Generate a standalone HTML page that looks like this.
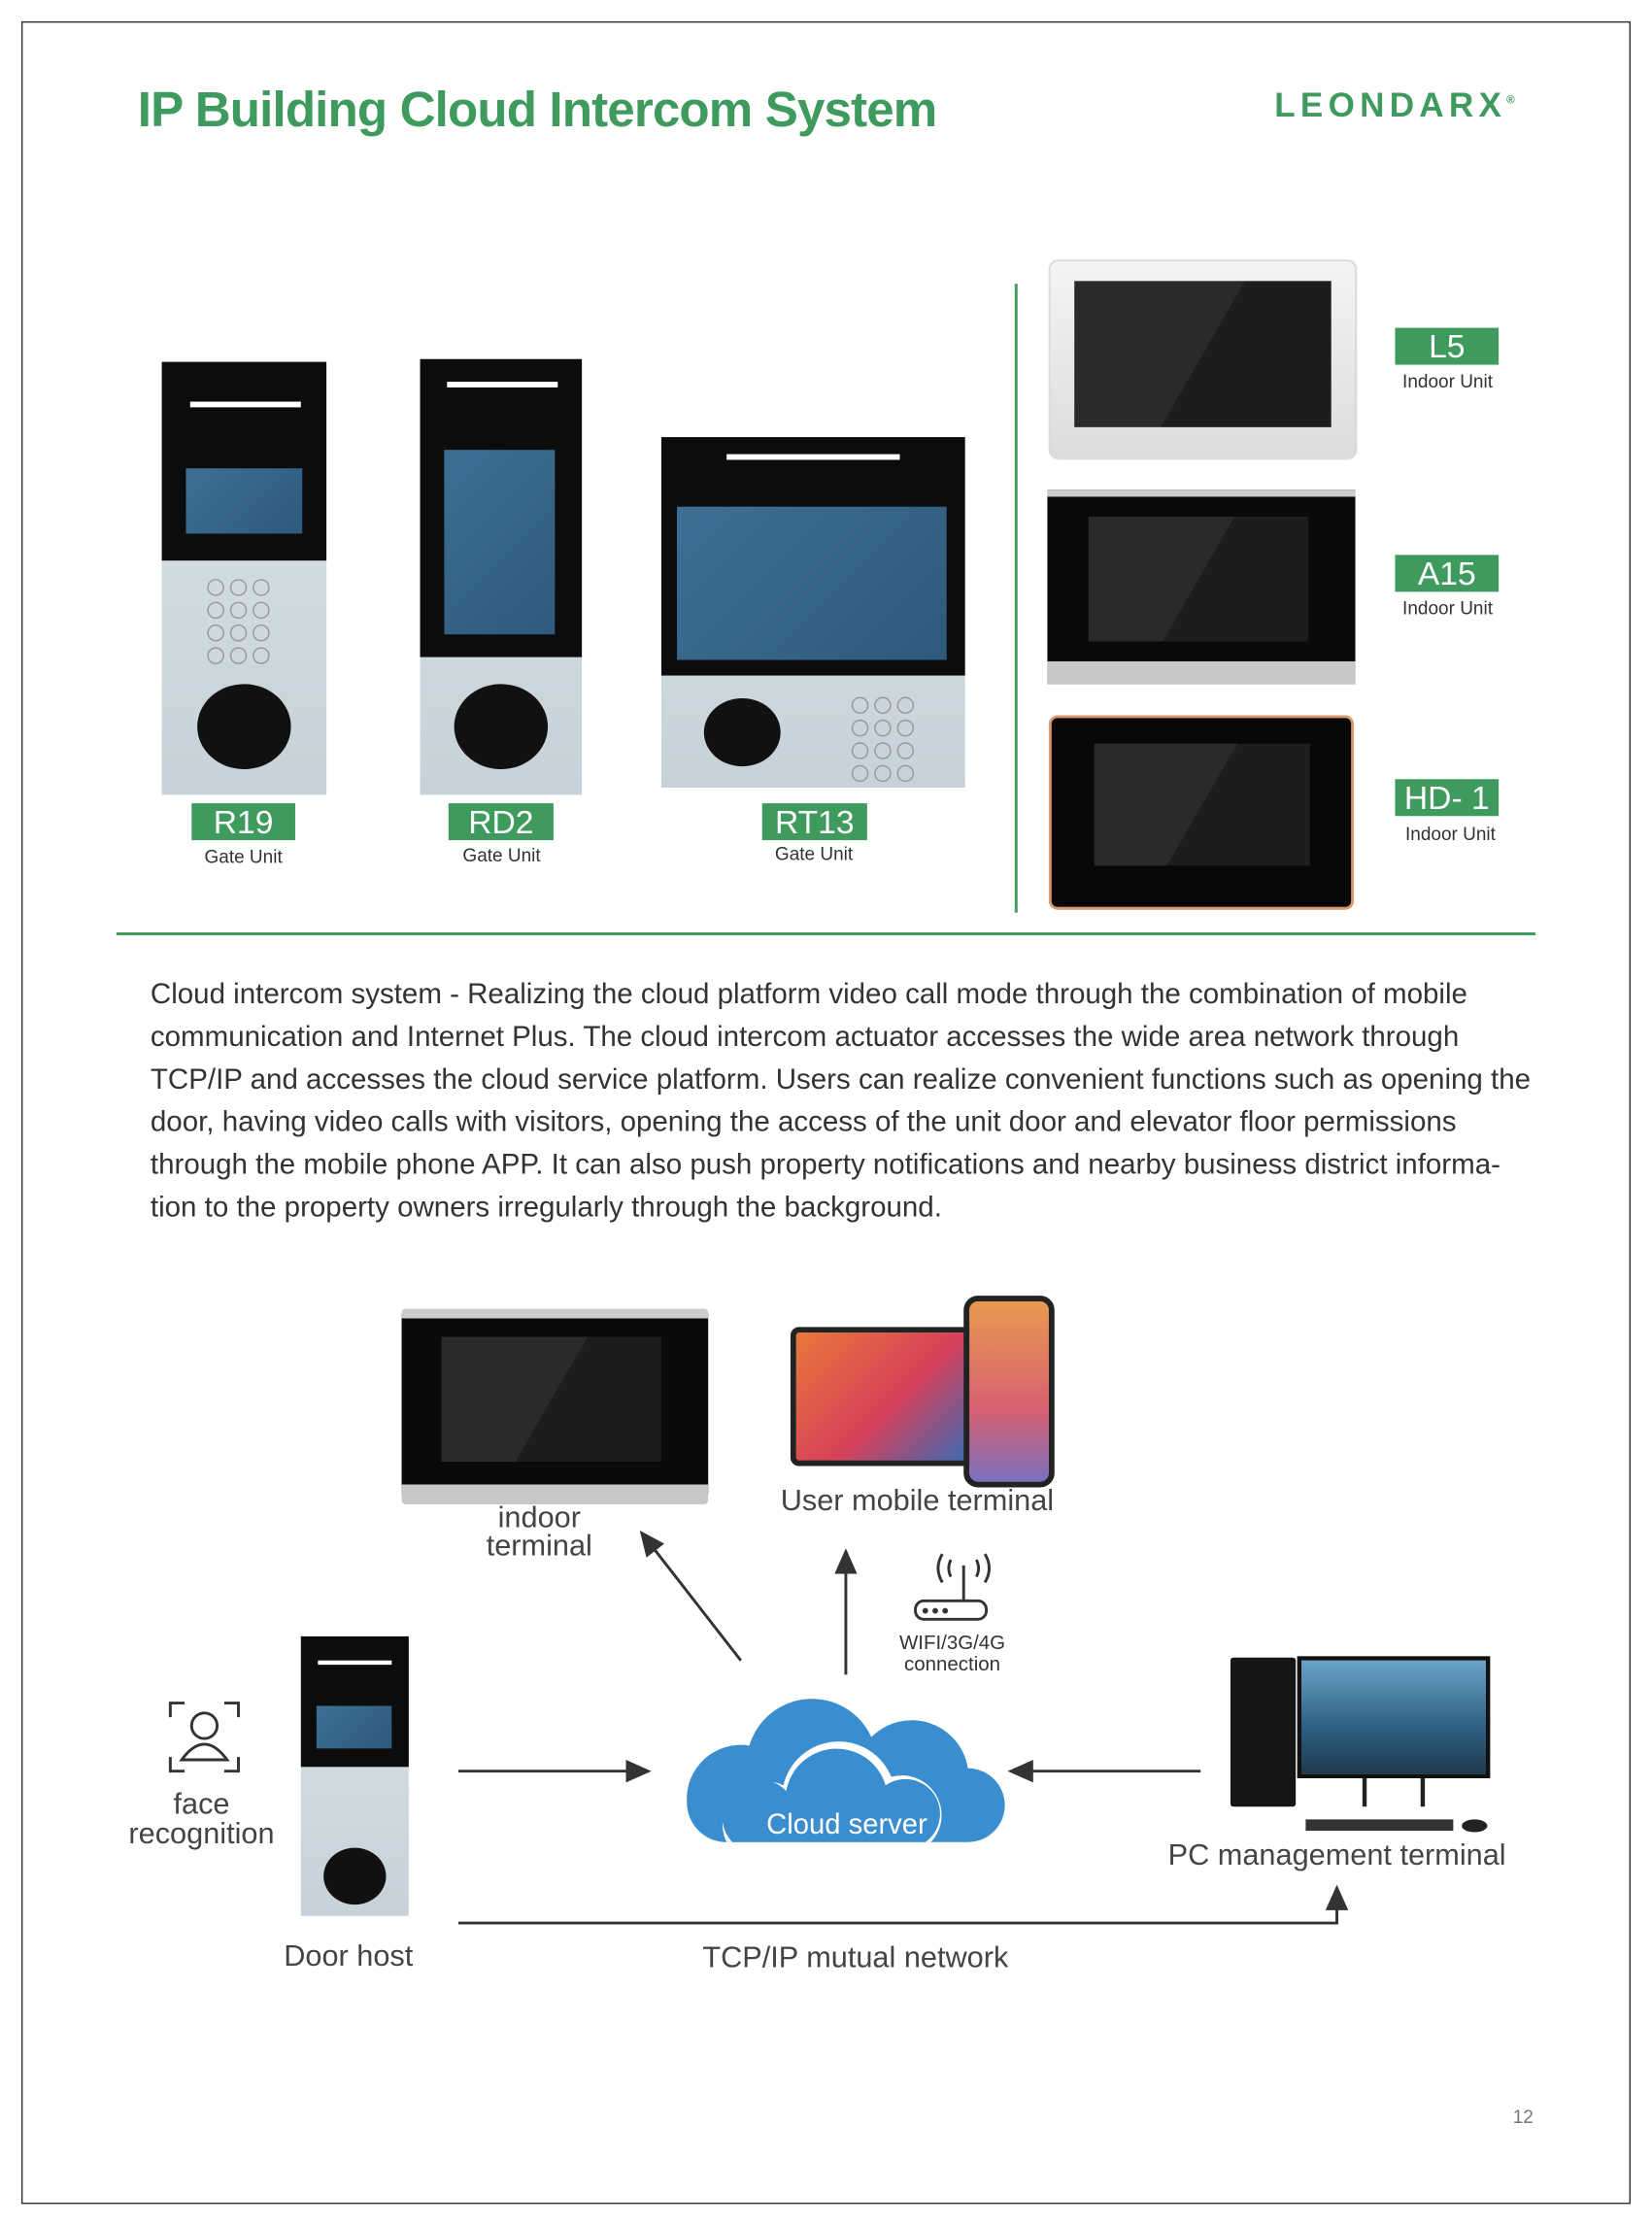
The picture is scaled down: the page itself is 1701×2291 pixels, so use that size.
<!DOCTYPE html>
<html><head><meta charset="utf-8">
<style>
html,body{margin:0;padding:0;background:#fff;}
body{width:1701px;height:2291px;overflow:hidden;position:relative;}
#s{position:absolute;left:0;top:0;width:1164px;height:1568px;transform:scale(1.4613);transform-origin:0 0;font-family:"Liberation Sans",sans-serif;}
.a{position:absolute;}
.lab{position:absolute;background:#3f9a5e;color:#fff;font-size:23px;text-align:center;line-height:26px;height:26px;}
.sub{position:absolute;font-size:13px;color:#333;text-align:center;}
.t{position:absolute;color:#444;font-size:21px;}
.blk{background:#0c0c0c;}
.scr{background:linear-gradient(135deg,#3d6f94,#2d5a7c);position:absolute;}
.dscr{background:linear-gradient(120deg,#2a2a2a 50%,#1d1d1d 50%);position:absolute;}
.keys{position:absolute;display:grid;gap:4px;}
.keys span{width:10px;height:10px;border:1px solid #999;border-radius:50%;display:block;}
.card{position:absolute;background:#111;border-radius:50%;}
</style></head><body><div id="s">
<div class="a" style="left:15px;top:15px;width:1132px;height:1536px;border:1.5px solid #333;"></div>
<div class="a" style="left:97px;top:58px;font-size:35px;color:#3f9a5e;font-weight:bold;letter-spacing:-0.6px;">IP Building Cloud Intercom System</div>
<div class="a" style="left:898px;top:61px;font-size:24px;color:#3f9a5e;font-weight:bold;letter-spacing:3.6px;">LEONDARX<sup style="font-size:8px">®</sup></div>

<!-- R19 -->
<div class="a" style="left:114px;top:255px;width:116px;height:305px;background:linear-gradient(#d8e2e8,#c6d2d9);"></div>
<div class="a blk" style="left:114px;top:255px;width:116px;height:140px;"></div>
<div class="a" style="left:134px;top:283px;width:78px;height:4px;background:#fff;"></div>
<div class="scr" style="left:131px;top:330px;width:82px;height:46px;"></div>
<div class="keys" style="left:146px;top:408px;grid-template-columns:repeat(3,12px);"><span></span><span></span><span></span><span></span><span></span><span></span><span></span><span></span><span></span><span></span><span></span><span></span></div>
<div class="card" style="left:139px;top:482px;width:66px;height:60px;"></div>
<!-- RD2 -->
<div class="a" style="left:296px;top:253px;width:114px;height:307px;background:linear-gradient(#d8e2e8,#c6d2d9);"></div>
<div class="a blk" style="left:296px;top:253px;width:114px;height:210px;"></div>
<div class="a" style="left:315px;top:269px;width:78px;height:4px;background:#fff;"></div>
<div class="scr" style="left:313px;top:317px;width:78px;height:130px;"></div>
<div class="card" style="left:320px;top:482px;width:66px;height:60px;"></div>
<!-- RT13 -->
<div class="a" style="left:466px;top:308px;width:214px;height:247px;background:linear-gradient(#d8e2e8,#c6d2d9);"></div>
<div class="a blk" style="left:466px;top:308px;width:214px;height:168px;"></div>
<div class="a" style="left:512px;top:320px;width:122px;height:4px;background:#fff;"></div>
<div class="scr" style="left:477px;top:357px;width:190px;height:108px;"></div>
<div class="card" style="left:496px;top:492px;width:54px;height:48px;"></div>
<div class="keys" style="left:600px;top:491px;grid-template-columns:repeat(3,12px);"><span></span><span></span><span></span><span></span><span></span><span></span><span></span><span></span><span></span><span></span><span></span><span></span></div>

<div class="lab" style="left:135px;top:566px;width:73px;">R19</div><div class="sub" style="left:120px;top:596px;width:103px;">Gate Unit</div>
<div class="lab" style="left:316px;top:566px;width:74px;">RD2</div><div class="sub" style="left:302px;top:595px;width:103px;">Gate Unit</div>
<div class="lab" style="left:537px;top:566px;width:74px;">RT13</div><div class="sub" style="left:522px;top:594px;width:103px;">Gate Unit</div>

<div class="a" style="left:715px;top:200px;width:2px;height:443px;background:#3f9a5e;"></div>

<!-- L5 -->
<div class="a" style="left:740px;top:184px;width:215px;height:139px;background:linear-gradient(#f4f4f4,#dcdcdc);border-radius:6px;box-shadow:0 0 2px #999;"></div>
<div class="dscr" style="left:757px;top:198px;width:181px;height:103px;"></div>
<!-- A15 -->
<div class="a" style="left:738px;top:345px;width:217px;height:137px;background:#0a0a0a;border-top:5px solid #ccc;border-bottom:16px solid #c8c8c8;box-sizing:border-box;"></div>
<div class="dscr" style="left:767px;top:364px;width:155px;height:88px;"></div>
<!-- HD-1 -->
<div class="a" style="left:739px;top:504px;width:215px;height:137px;background:#080808;border:2px solid #d89a6e;border-radius:6px;box-sizing:border-box;"></div>
<div class="dscr" style="left:771px;top:524px;width:152px;height:86px;"></div>

<div class="lab" style="left:983px;top:231px;width:73px;">L5</div><div class="sub" style="left:970px;top:261px;width:100px;">Indoor Unit</div>
<div class="lab" style="left:983px;top:391px;width:73px;">A15</div><div class="sub" style="left:970px;top:421px;width:100px;">Indoor Unit</div>
<div class="lab" style="left:983px;top:549px;width:73px;">HD- 1</div><div class="sub" style="left:972px;top:580px;width:100px;">Indoor Unit</div>

<div class="a" style="left:82px;top:657px;width:1000px;height:2px;background:#3f9a5e;"></div>

<div class="a" style="left:106px;top:686px;font-size:20.2px;line-height:30px;color:#333;white-space:nowrap;">Cloud intercom system - Realizing the cloud platform video call mode through the combination of mobile<br>communication and Internet Plus. The cloud intercom actuator accesses the wide area network through<br>TCP/IP and accesses the cloud service platform. Users can realize convenient functions such as opening the<br>door, having video calls with visitors, opening the access of the unit door and elevator floor permissions<br>through the mobile phone APP. It can also push property notifications and nearby business district informa-<br>tion to the property owners irregularly through the background.</div>

<!-- diagram -->
<div class="a" style="left:283px;top:922px;width:216px;height:138px;background:#0a0a0a;border-top:7px solid #ccc;border-bottom:14px solid #c8c8c8;box-sizing:border-box;border-radius:3px;"></div>
<div class="dscr" style="left:311px;top:942px;width:155px;height:88px;"></div>
<div class="t" style="left:330px;top:1060px;width:100px;text-align:center;line-height:20px;">indoor<br>terminal</div>

<div class="a" style="left:557px;top:935px;width:130px;height:98px;background:linear-gradient(135deg,#e8783a,#d8405a 55%,#3a6bb5);border:4px solid #222;border-radius:6px;box-sizing:border-box;"></div>
<div class="a" style="left:679px;top:913px;width:64px;height:135px;background:linear-gradient(#e89a50,#d86070 60%,#7a70c0);border:4px solid #222;border-radius:10px;box-sizing:border-box;"></div>
<div class="t" style="left:550px;top:1046px;">User mobile terminal</div>

<svg class="a" style="left:0;top:0" width="1164" height="1568">
<defs><marker id="ar" markerWidth="10" markerHeight="10" refX="8" refY="5" orient="auto"><path d="M0,1 L9,5 L0,9 z" fill="#333"/></marker></defs>
<g stroke="#333" stroke-width="2" fill="none">
<line x1="522" y1="1170" x2="452" y2="1080" marker-end="url(#ar)"/>
<line x1="596" y1="1180" x2="596" y2="1093" marker-end="url(#ar)"/>
<line x1="323" y1="1248" x2="457" y2="1248" marker-end="url(#ar)"/>
<line x1="846" y1="1248" x2="712" y2="1248" marker-end="url(#ar)"/>
<polyline points="323,1355 942,1355 942,1330" marker-end="url(#ar)"/>
</g>
<g stroke="#333" stroke-width="2" fill="none">
<path d="M664,1095 q-6,10 0,20 M694,1095 q6,10 0,20 M670,1099 q-3,6 0,12 M688,1099 q3,6 0,12"/>
<line x1="679" y1="1103" x2="679" y2="1128"/><rect x="645" y="1128" width="50" height="13" rx="6"/>
<path d="M120,1210 v-10 h10 M158,1200 h10 v10 M120,1238 v10 h10 M158,1248 h10 v-10"/>
<circle cx="144" cy="1216" r="9"/><path d="M128,1240 q16,-22 32,0 z"/>
</g>
<circle cx="652" cy="1135" r="2" fill="#333"/><circle cx="659" cy="1135" r="2" fill="#333"/><circle cx="666" cy="1135" r="2" fill="#333"/>
<path d="M510,1298 h172 a26,26 0 0 0 0,-52 a40,40 0 0 0 -68,-22 a46,46 0 0 0 -86,6 a38,38 0 0 0 -44,40 a28,28 0 0 0 26,28 z" fill="#3a8ed0"/>
<path d="M512,1298 a30,30 0 0 1 40,-40 a40,40 0 0 1 76,-6 a28,28 0 0 1 28,46 z" fill="#fff"/>
<path d="M516,1298 a26,26 0 0 1 38,-36 a36,36 0 0 1 70,-4 a24,24 0 0 1 28,40 z" fill="#3a8ed0"/>
</svg>
<div class="a" style="left:540px;top:1275px;color:#fff;font-size:20px;">Cloud server</div>
<div class="a" style="left:628px;top:1150px;width:86px;text-align:center;font-size:14px;line-height:15px;color:#333;">WIFI/3G/4G<br>connection</div>

<div class="t" style="left:84px;top:1261px;width:116px;text-align:center;line-height:21px;">face<br>recognition</div>

<div class="a" style="left:212px;top:1153px;width:76px;height:197px;background:linear-gradient(#d8e2e8,#c6d2d9);"></div>
<div class="a blk" style="left:212px;top:1153px;width:76px;height:92px;"></div>
<div class="a" style="left:224px;top:1170px;width:52px;height:3px;background:#fff;"></div>
<div class="scr" style="left:223px;top:1202px;width:53px;height:30px;"></div>
<div class="card" style="left:228px;top:1302px;width:44px;height:40px;"></div>
<div class="t" style="left:200px;top:1367px;">Door host</div>
<div class="t" style="left:495px;top:1368px;">TCP/IP mutual network</div>

<div class="a" style="left:867px;top:1168px;width:46px;height:105px;background:#151515;border-radius:2px;"></div>
<div class="a" style="left:914px;top:1167px;width:136px;height:86px;background:linear-gradient(#6aa4c8,#2e5e80 60%,#1c3a50);border:3px solid #111;box-sizing:border-box;"></div>
<div class="a" style="left:960px;top:1253px;width:44px;height:20px;border-left:3px solid #222;border-right:3px solid #222;box-sizing:border-box;"></div>
<div class="a" style="left:920px;top:1282px;width:104px;height:8px;background:#333;"></div>
<div class="a" style="left:1030px;top:1282px;width:18px;height:9px;background:#222;border-radius:50%;"></div>
<div class="t" style="left:823px;top:1296px;">PC management terminal</div>

<div class="a" style="left:1066px;top:1484px;font-size:13px;color:#777;">12</div>
</div></body></html>
